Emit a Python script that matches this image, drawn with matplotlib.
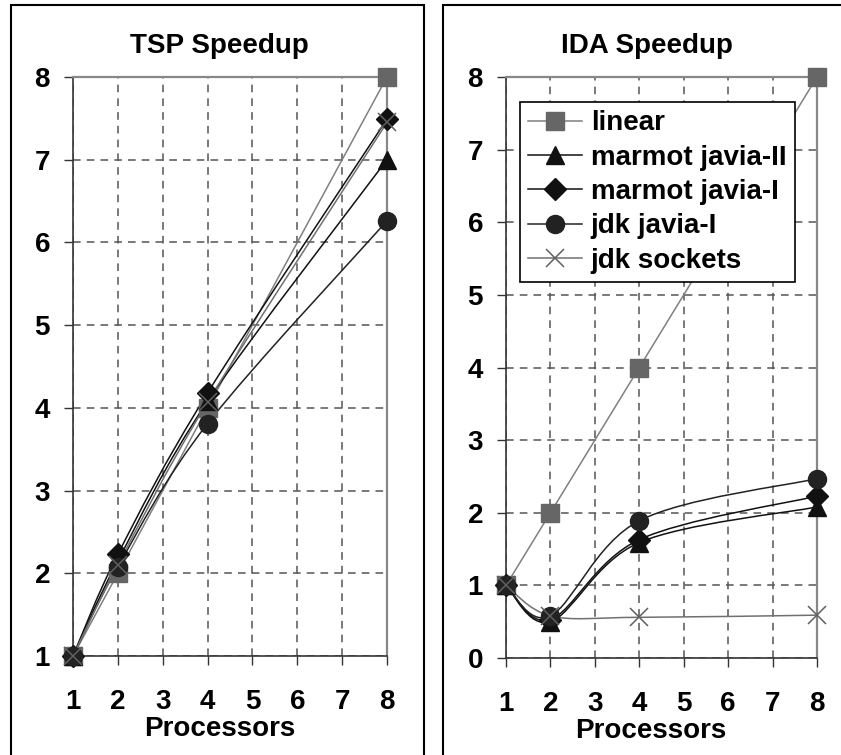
import numpy as np
import matplotlib
matplotlib.use("Agg")
import matplotlib.pyplot as plt
from matplotlib.path import Path
from matplotlib.patches import PathPatch, Rectangle
from matplotlib.lines import Line2D

plt.rcParams['font.family'] = ['Liberation Sans', 'DejaVu Sans']
plt.rcParams['font.weight'] = 'bold'
plt.rcParams['font.size'] = 20

procs = [1, 2, 4, 8]
series_names = ["linear", "marmot javia-II", "marmot javia-I", "jdk javia-I", "jdk sockets"]

tsp_linear = [1, 2, 4, 8]
tsp_marmot_II = [1, 2.15, 4.08, 7.0]
tsp_marmot_I = [1, 2.23, 4.18, 7.49]
tsp_jdk_I = [1, 2.08, 3.81, 6.26]
tsp_jdk_sockets = [1, 2.1, 4.07, 7.45]

ida_linear = [1, 2, 4, 8]
ida_marmot_II = [1, 0.5, 1.59, 2.08]
ida_marmot_I = [1, 0.53, 1.63, 2.23]
ida_jdk_I = [1, 0.58, 1.89, 2.47]
ida_jdk_sockets = [1, 0.58, 0.56, 0.59]

# style per series: line colour, marker, marker face colour, marker size, marker edge width
styles = [
    dict(lc='#808080', marker='s', mfc='#666666', mec='#666666', ms=13, mew=1),
    dict(lc='#111111', marker='^', mfc='#111111', mec='#111111', ms=13, mew=1),
    dict(lc='#111111', marker='D', mfc='#111111', mec='#111111', ms=11.5, mew=1),
    dict(lc='#222222', marker='o', mfc='#222222', mec='#222222', ms=13, mew=1),
    dict(lc='#707070', marker='x', mfc='none', mec='#606060', ms=13, mew=1.1),
]


def smooth_path(xs, ys):
    # Bezier curve through the points, like a spreadsheet "smoothed line"
    pts = np.column_stack([xs, ys]).astype(float)
    n = len(pts)
    verts = [pts[0]]
    codes = [Path.MOVETO]
    for i in range(n - 1):
        p0 = pts[max(i - 1, 0)]
        p3 = pts[min(i + 2, n - 1)]
        c1 = pts[i] + (pts[i + 1] - p0) / 6.0
        c2 = pts[i + 1] - (p3 - pts[i]) / 6.0
        verts += [c1, c2, pts[i + 1]]
        codes += [Path.CURVE4] * 3
    return Path(verts, codes)


def draw_panel(ax, data, title, ymin, title_x, xlabel_x):
    for vals, st in zip(data, styles):
        ax.add_patch(PathPatch(smooth_path(procs, vals), fill=False,
                               edgecolor=st['lc'], lw=1.1, zorder=3))
        ax.plot(procs, vals, ls='none', marker=st['marker'], mfc=st['mfc'],
                mec=st['mec'], ms=st['ms'], mew=st['mew'], clip_on=False, zorder=4)

    ax.set_xlim(1, 8)
    ax.set_ylim(ymin, 8)
    ax.set_xticks(range(1, 9))
    ax.set_yticks(range(ymin, 9))
    ax.grid(True, color='#555555', lw=1.1, dashes=(5, 4), zorder=1)
    ax.tick_params(direction='out', length=6.5, width=1, color='#333333',
                   labelsize=20)
    ax.tick_params(axis='y', pad=10)
    ax.tick_params(axis='x', pad=17)
    for s in ['left', 'bottom']:
        ax.spines[s].set_color('#333333')
        ax.spines[s].set_linewidth(1.2)
    for s in ['top', 'right']:
        ax.spines[s].set_color('#888888')
        ax.spines[s].set_linewidth(1.6)
    ax.text(title_x, 1.054, title, transform=ax.transAxes, ha='center',
            va='center', fontsize=20, fontweight='bold')
    ax.set_xlabel("Processors", fontsize=20, fontweight='bold')
    ax.xaxis.set_label_coords(xlabel_x, -0.126)
    ax.xaxis.label.set_va('center')


fig = plt.figure(figsize=(8.41, 7.55), dpi=100)

# outer frames around each chart
fig.patches.append(Rectangle((11 / 841, -0.02), 413 / 841, 1.02 - 5 / 755,
                             transform=fig.transFigure, fill=False,
                             edgecolor='black', lw=1.5))
fig.patches.append(Rectangle((443 / 841, -0.02), 0.5, 1.02 - 5 / 755,
                             transform=fig.transFigure, fill=False,
                             edgecolor='black', lw=1.5))

ax1 = fig.add_axes([73 / 841, 99 / 755, 314 / 841, 579 / 755])
ax2 = fig.add_axes([506 / 841, 97 / 755, 311 / 841, 581 / 755])

draw_panel(ax1, [tsp_linear, tsp_marmot_II, tsp_marmot_I, tsp_jdk_I, tsp_jdk_sockets],
           "TSP Speedup", 1, 0.465, 0.468)
draw_panel(ax2, [ida_linear, ida_marmot_II, ida_marmot_I, ida_jdk_I, ida_jdk_sockets],
           "IDA Speedup", 0, 0.453, 0.466)

handles = [Line2D([], [], color=st['lc'], lw=1.1, marker=st['marker'], mfc=st['mfc'],
                  mec=st['mec'], ms=st['ms'], mew=st['mew']) for st in styles]
leg = ax2.legend(handles, series_names, loc='upper left', bbox_to_anchor=(0.045, 0.957),
                 borderaxespad=0, fancybox=False, framealpha=1, edgecolor='black',
                 handlelength=1.95, handletextpad=0.3, borderpad=0.3,
                 labelspacing=0.3, prop={'weight': 'bold', 'size': 20})
leg.get_frame().set_linewidth(1.2)
leg.set_zorder(10)

fig.savefig("out.png", dpi=100)
